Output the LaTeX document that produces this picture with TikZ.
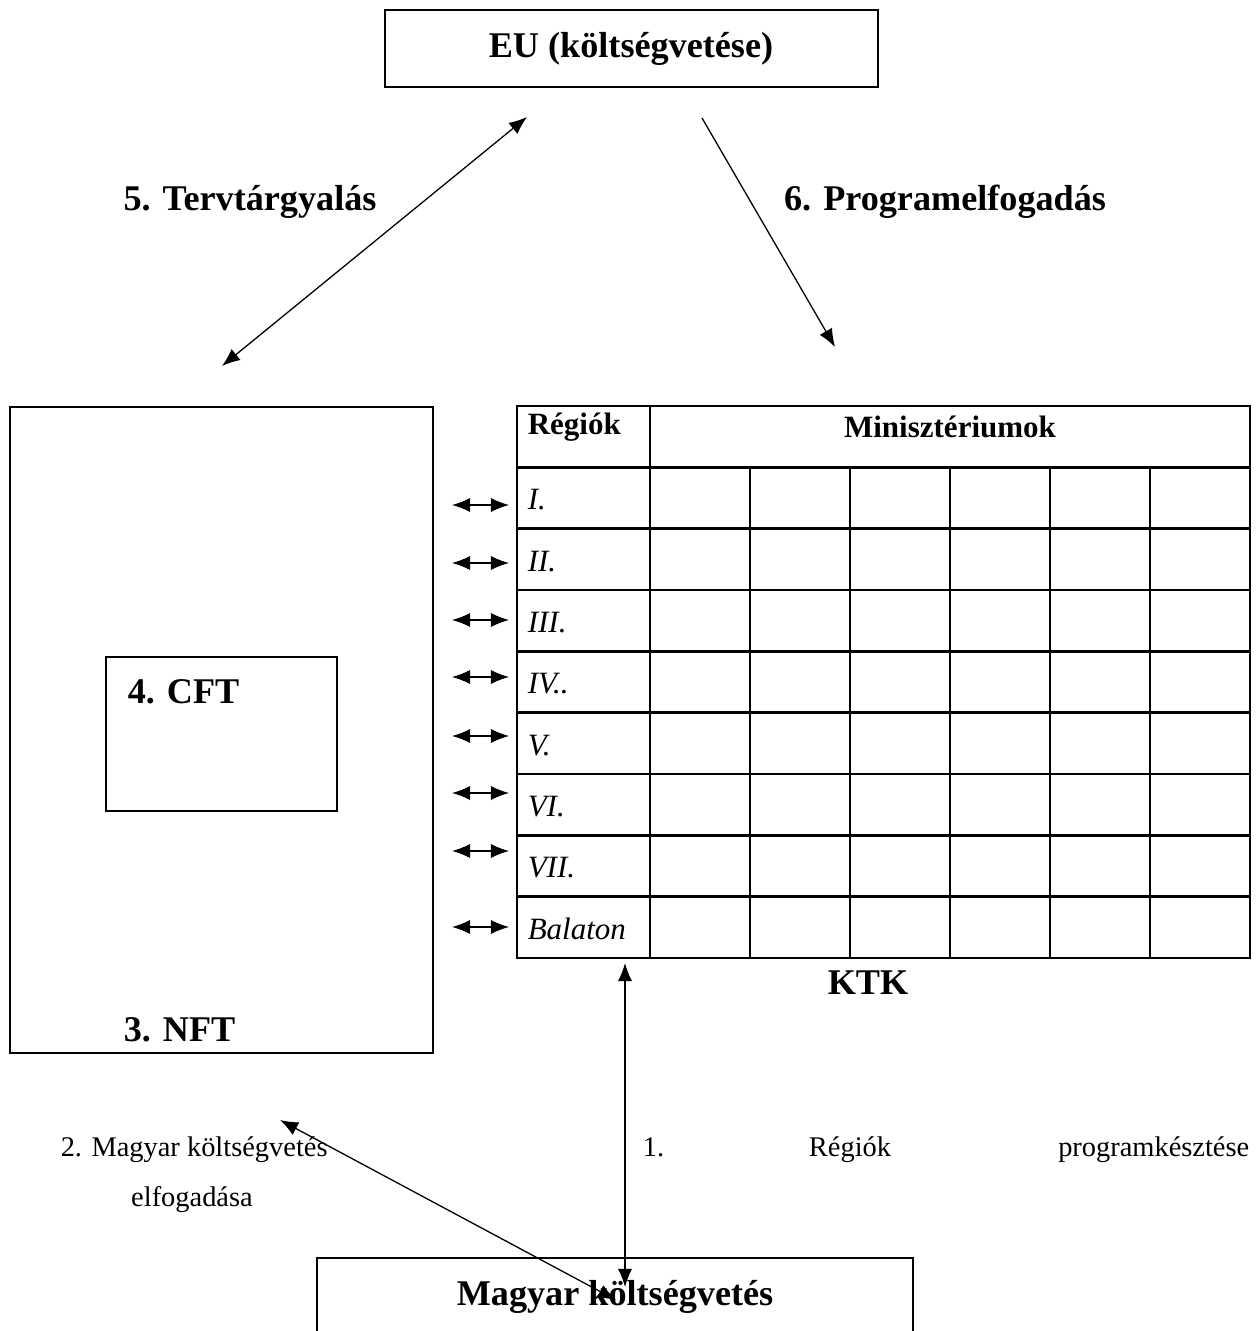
\documentclass[tikz,border=0pt]{standalone}
\usepackage{fontspec}
\setmainfont{Liberation Serif}
\usetikzlibrary{arrows.meta}

\begin{document}
\begin{tikzpicture}[x=0.387pt, y=-0.387pt, line width=0.6pt,
    >={Latex[length=7pt, width=5.5pt]},
    big/.style={font=\fontsize{14}{16}\selectfont\bfseries, inner sep=0pt},
    plain/.style={font=\fontsize{11}{13}\selectfont, inner sep=0pt},
    cell/.style={font=\fontsize{12}{14}\selectfont\itshape, inner sep=0pt, anchor=west},
    frame/.style={line width=0.75pt},
    link/.style={line width=0.5pt}]
  \fill [white] (0, 0) rectangle (1255, 1331);
  \clip (0, 0) rectangle (1255, 1331);

  % EU box
  \draw [frame] (385, 10) rectangle (878, 87);
  \node [big] (eu) at (631, 49) {EU (költségvetése)};
  \coordinate (eu-l) at (527, 117);
  \coordinate (eu-r) at (702, 118);

  \node [big] (terv) at (250, 202) {5. Tervtárgyalás};
  \node [big] (prog) at (945, 202) {6. Programelfogadás};

  % NFT and CFT
  \draw [frame] (10, 407) rectangle (433, 1053);
  \draw [frame] (106, 657) rectangle (337, 811);
  \node [big, anchor=west] (cft) at (127, 692) {4. CFT};
  \node [big, anchor=west] (nft) at (123, 1030) {3. NFT};
  \coordinate (nft-t) at (222, 366);
  \coordinate (nft-b) at (280, 1120);

  % KTK table
  \draw [line width=1pt] (517, 406) rectangle (1250, 958);
  \foreach \k in {1, ..., 8}
    \draw [line width=1pt] (517, 406 + 61.33*\k) -- (1250, 406 + 61.33*\k);
  \draw [line width=1pt] (650, 406) -- (650, 958);
  \foreach \x in {750, 850, ..., 1150}
    \draw [line width=1pt] (\x, 467) -- (\x, 958);
  \node [plain, font=\fontsize{12}{14}\selectfont\bfseries, anchor=west] (reg) at (527, 427) {Régiók};
  \node [plain, font=\fontsize{12}{14}\selectfont\bfseries] (min) at (950, 427) {Minisztériumok};
  \foreach \lab [count=\i] in {I., II., III., IV.., V., VI., VII., Balaton}
    \node [cell] (row\i) at (527, 500 + 61.33*\i - 61.33) {\lab};
  \foreach \y [count=\i] in {505, 563, 620, 677, 736, 793, 851, 927} {
    \coordinate (a\i-l) at (452, \y);
    \coordinate (a\i-r) at (509, \y);
    \draw [<->, link] (a\i-l) -- (a\i-r);
  }
  \node [big] (ktk) at (868, 983) {KTK};
  \coordinate (ktk-t) at (835, 347);
  \coordinate (ktk-b) at (625, 963);

  % Magyar koltsegvetes
  \draw [frame] (317, 1258) rectangle (913, 1345);
  \node [big] (hu) at (615, 1297) {Magyar költségvetés};
  \coordinate (hu-a) at (625, 1287);
  \coordinate (hu-b) at (616, 1300);

  \node [plain, anchor=base west] (elf1) at (60, 1156) {2. Magyar költségvetés};
  \node [plain, anchor=base] (elf2) at (192, 1206) {elfogadása};
  \node [plain, anchor=base west] (rp1) at (642, 1156) {1.};
  \node [plain, anchor=base] (rp2) at (850, 1156) {Régiók};
  \node [plain, anchor=base east] (rp3) at (1250, 1156) {programkésztése};

  % arrows
  \draw [<->, link] (eu-l) -- (nft-t);
  \draw [->, link] (eu-r) -- (ktk-t);
  \draw [<->, link] (ktk-b) -- (hu-a);
  \draw [<->, link] (nft-b) -- (hu-b);
\end{tikzpicture}
\end{document}
